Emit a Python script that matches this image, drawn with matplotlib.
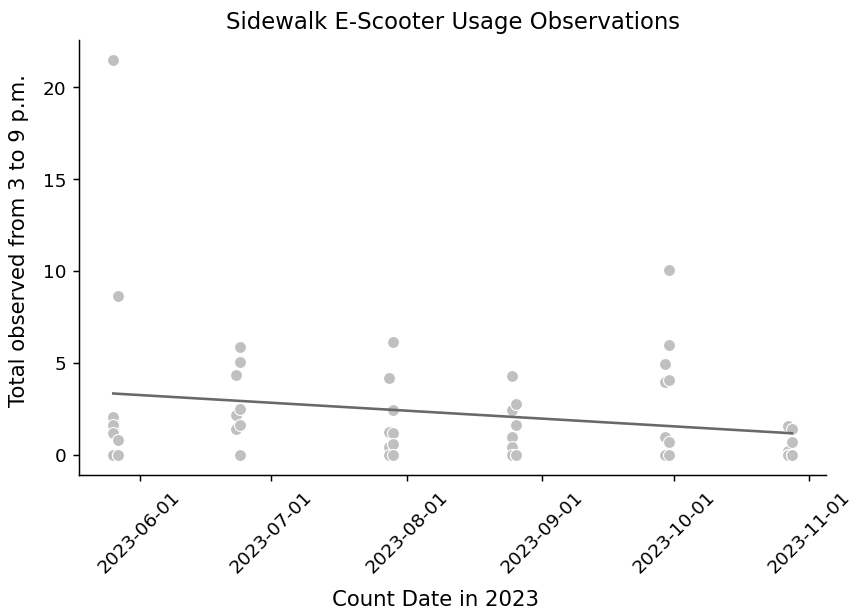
import numpy as np
import pandas as pd
import matplotlib
matplotlib.use("Agg")
import matplotlib.pyplot as plt
import matplotlib.dates as mdates
import seaborn as sns

# count dates (two consecutive days per session) and observed totals
dates = (["2023-05-26"] * 5 + ["2023-05-27"] * 4 +
         ["2023-06-23"] * 3 + ["2023-06-24"] * 6 +
         ["2023-07-28"] * 4 + ["2023-07-29"] * 5 +
         ["2023-08-25"] * 5 + ["2023-08-26"] * 4 +
         ["2023-09-29"] * 4 + ["2023-09-30"] * 5 +
         ["2023-10-27"] * 5 + ["2023-10-28"] * 4)
totals = [21.5, 2.1, 1.65, 1.2, 0.0,   8.65, 0.85, 0.0, 0.0,
          4.35, 2.17, 1.45,            5.9, 5.07, 2.5, 1.65, 0.0, 0.0,
          4.2, 1.27, 0.47, 0.0,        6.16, 2.46, 1.2, 0.6, 0.0,
          4.3, 2.45, 1.0, 0.45, 0.0,   2.8, 1.65, 0.0, 0.0,
          4.95, 4.0, 1.0, 0.0,         10.07, 6.0, 4.08, 0.7, 0.0,
          1.6, 0.25, 0.0, 0.0, 0.0,    1.4, 0.7, 0.0, 0.0]

df = pd.DataFrame({"date": pd.to_datetime(dates), "total": totals})
xnum = mdates.date2num(df["date"])

fig, ax = plt.subplots(figsize=(6.4, 4.57), dpi=133.3)
ax.scatter(xnum, df["total"], color="silver", s=42,
           edgecolor="white", linewidth=0.6, zorder=2)

# linear trend over the observation period
slope, intercept = np.polyfit(xnum, df["total"], 1)
xs = np.array([xnum.min(), xnum.max()])
ax.plot(xs, slope * xs + intercept, color="dimgray", linewidth=1.4, zorder=3)

ax.xaxis.set_major_locator(mdates.MonthLocator())
ax.xaxis.set_major_formatter(mdates.DateFormatter("%Y-%m-%d"))
plt.xticks(rotation=45)
ax.set_xlabel("Count Date in 2023", fontsize=11.5)
ax.set_ylabel("Total observed from 3 to 9 p.m.", fontsize=11.5)
ax.xaxis.set_label_coords(0.477, -0.265)
ax.yaxis.set_label_coords(-0.067, 0.54)
ax.set_title("Sidewalk E-Scooter Usage Observations", fontsize=12.3)
sns.despine()

plt.subplots_adjust(left=0.093, right=0.968, top=0.934, bottom=0.22)
plt.savefig("out.png", dpi=133.3)
